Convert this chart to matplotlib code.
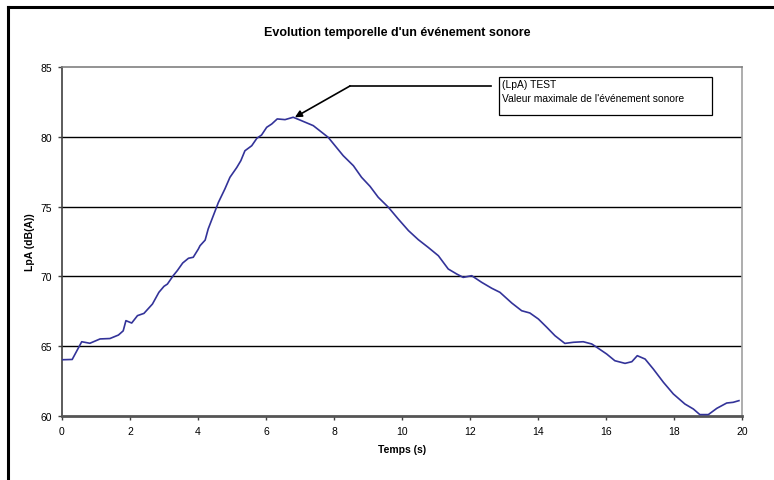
import matplotlib
matplotlib.use("Agg")
import matplotlib.pyplot as plt
from matplotlib.lines import Line2D
from matplotlib.patches import Rectangle
import numpy as np

plt.rcParams['font.family'] = ['Liberation Sans', 'DejaVu Sans']

# Data
temps = [0.00, 0.30, 0.58, 0.82, 1.12, 1.41, 1.66, 1.80, 1.88, 2.05, 2.22, 2.41,
         2.66, 2.85, 3.00, 3.10, 3.27, 3.39, 3.55, 3.72, 3.86, 4.01, 4.06, 4.21,
         4.30, 4.45, 4.60, 4.79, 4.94, 5.14, 5.26, 5.38, 5.58, 5.73, 5.87, 6.02,
         6.17, 6.33, 6.56, 6.80, 7.00, 7.39, 7.83, 8.27, 8.57, 8.81, 9.06, 9.30,
         9.60, 9.89, 10.19, 10.48, 10.77, 11.07, 11.36, 11.61, 11.80, 12.05,
         12.34, 12.64, 12.88, 13.23, 13.52, 13.76, 14.01, 14.26, 14.50, 14.79,
         15.04, 15.33, 15.58, 15.73, 16.02, 16.26, 16.56, 16.76, 16.92, 17.15,
         17.39, 17.69, 17.98, 18.32, 18.57, 18.76, 19.01, 19.26, 19.55, 19.74, 19.91]
lpa = [64.03, 64.05, 65.32, 65.21, 65.52, 65.55, 65.80, 66.10, 66.83, 66.66, 67.19, 67.35,
       68.02, 68.86, 69.29, 69.45, 70.05, 70.41, 70.96, 71.30, 71.37, 71.96, 72.20, 72.60,
       73.40, 74.35, 75.30, 76.26, 77.10, 77.80, 78.29, 79.00, 79.36, 79.89, 80.13, 80.68,
       80.92, 81.28, 81.23, 81.40, 81.20, 80.80, 79.96, 78.65, 77.93, 77.10, 76.45, 75.67,
       74.95, 74.11, 73.28, 72.63, 72.08, 71.48, 70.53, 70.17, 69.93, 70.05,
       69.58, 69.15, 68.86, 68.09, 67.54, 67.38, 66.95, 66.35, 65.75, 65.20,
       65.28, 65.32, 65.16, 64.92, 64.44, 63.96, 63.77, 63.89, 64.32, 64.08,
       63.37, 62.41, 61.58, 60.86, 60.50, 60.10, 60.10, 60.55, 60.93, 60.98, 61.10]

x_ticks = [0, 2, 4, 6, 8, 10, 12, 14, 16, 18, 20]
y_ticks = [60, 65, 70, 75, 80, 85]

title = "Evolution temporelle d'un événement sonore"
xlabel = "Temps (s)"
ylabel = "LpA (dB(A))"
note = "(LpA) TEST\nValeur maximale de l'événement sonore"

fig = plt.figure(figsize=(7.74, 4.81), dpi=100)
ax = fig.add_axes([62/774, 1-417/481, 680/774, 349/481])

for v in y_ticks[1:-1]:
    ax.axhline(v, color='black', lw=1.0, zorder=1)

ax.plot(temps, lpa, color='#333399', lw=1.2, zorder=3)

ax.set_xlim(0, 20)
ax.set_ylim(60, 85)
ax.set_xticks(x_ticks)
ax.set_yticks(y_ticks)
ax.tick_params(axis='both', labelsize=7.5, direction='out', length=3, width=1,
               color='#404040', pad=4)

ax.spines['left'].set_color('#404040'); ax.spines['left'].set_linewidth(1.2)
ax.spines['bottom'].set_color('#555555'); ax.spines['bottom'].set_linewidth(2)
ax.spines['top'].set_color('#808080'); ax.spines['top'].set_linewidth(1.2)
ax.spines['right'].set_color('#a0a0a0'); ax.spines['right'].set_linewidth(1.2)

ax.set_xlabel(xlabel, fontsize=7.5, fontweight='bold', labelpad=6)
ax.set_ylabel(ylabel, fontsize=7.5, fontweight='bold', labelpad=4)
fig.text(397/774, 1-33/481, title, fontsize=9, fontweight='bold', ha='center', va='center')

# annotation pointing at the maximum
imax = int(np.argmax(lpa))
tx, ty = temps[imax], lpa[imax]
ax.plot([8.47, 12.62], [83.64, 83.64], color='black', lw=1.2, zorder=4, clip_on=False)
ax.annotate('', xy=(tx + 0.05, ty), xytext=(8.47, 83.64),
            arrowprops=dict(arrowstyle='-|>', color='black', lw=1.2,
                            mutation_scale=10, shrinkA=0, shrinkB=0), zorder=5)
ax.add_patch(Rectangle((12.85, 81.56), 6.27, 2.72, fill=True, facecolor='white',
                       edgecolor='black', lw=0.9, zorder=4))
ax.text(12.93, 84.12, note, fontsize=7.4, va='top', ha='left', linespacing=1.5, zorder=5)

# outer frame (left and top)
fig.add_artist(Line2D([8/774, 8/774], [0, 1-7.5/481], color='black', lw=2.2,
                      transform=fig.transFigure))
fig.add_artist(Line2D([8/774, 1], [1-7.5/481, 1-7.5/481], color='black', lw=2.2,
                      transform=fig.transFigure))

fig.savefig('out.png', dpi=100)
